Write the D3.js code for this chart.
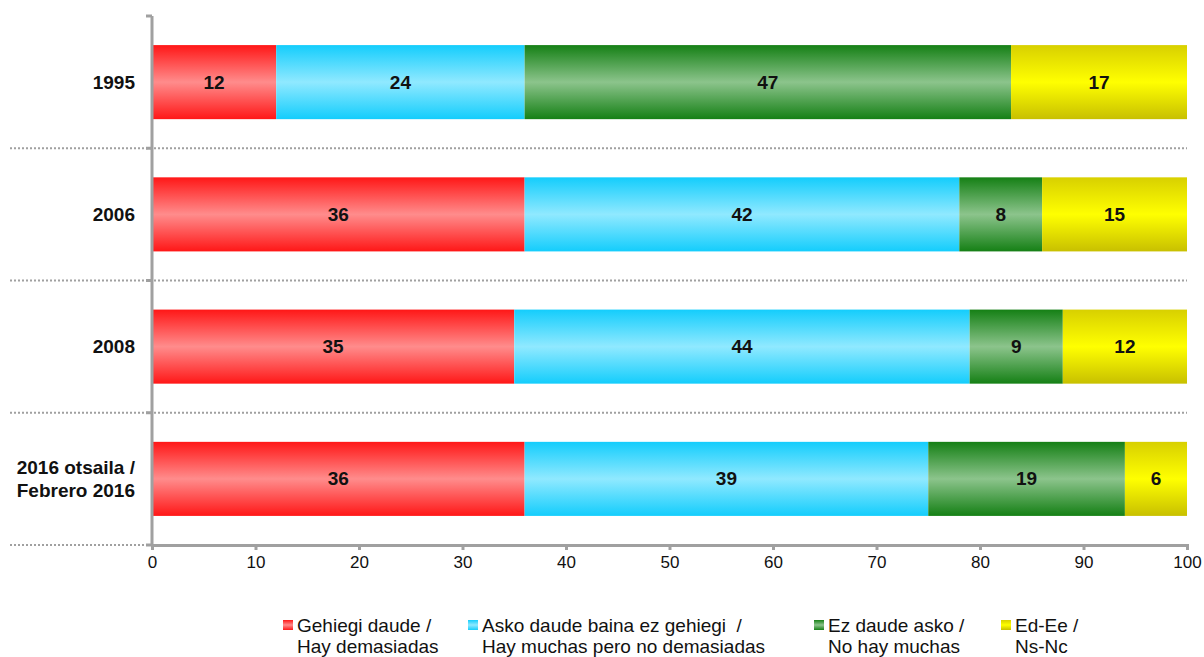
<!DOCTYPE html>
<html>
<head>
<meta charset="utf-8">
<script src="https://cdn.jsdelivr.net/npm/d3@7"></script>
<style>
  body { margin: 0; background: #fff; }
  svg { display: block; font-family: "Liberation Sans", Arial, sans-serif; }
</style>
</head>
<body>
<div id="chart"></div>
<script>
const categories = ['1995', '2006', '2008', '2016 otsaila / Febrero 2016'];
const seriesNames = [
  ['Gehiegi daude /', 'Hay demasiadas'],
  ['Asko daude baina ez gehiegi  /', 'Hay muchas pero no demasiadas'],
  ['Ez daude asko /', 'No hay muchas'],
  ['Ed-Ee /', 'Ns-Nc']
];
const demasiadas = [12, 36, 35, 36];
const muchas = [24, 42, 44, 39];
const noMuchas = [47, 8, 9, 19];
const nsnc = [17, 15, 12, 6];
const xTicks = [0, 10, 20, 30, 40, 50, 60, 70, 80, 90, 100];

const series = [demasiadas, muchas, noMuchas, nsnc];
// edge / centre colours for each series gradient
const grads = [
  { id: 'gRed', stops: ['#ff1717', '#ff8c8c', '#ff1717'] },
  { id: 'gBlue', stops: ['#14cdfc', '#90e9ff', '#14cdfc'] },
  { id: 'gGreen', stops: ['#158015', '#8cc48c', '#158015'] },
  { id: 'gYellow', stops: ['#d8d000', '#ffff00', '#c8c000'] }
];

const width = 1204, height = 657;
const margin = { left: 152, right: 17, top: 16, bottom: 112 };

const svg = d3.select('#chart').append('svg')
  .attr('width', width).attr('height', height);

const defs = svg.append('defs');
grads.forEach(g => {
  const lg = defs.append('linearGradient').attr('id', g.id)
    .attr('x1', 0).attr('y1', 0).attr('x2', 0).attr('y2', 1);
  lg.append('stop').attr('offset', '0%').attr('stop-color', g.stops[0]);
  lg.append('stop').attr('offset', '50%').attr('stop-color', g.stops[1]);
  lg.append('stop').attr('offset', '100%').attr('stop-color', g.stops[2]);
});

// clamp: totals that round past 100 still end at the axis edge
const x = d3.scaleLinear().domain([0, 100]).range([margin.left, width - margin.right]).clamp(true);
const y = d3.scaleBand().domain(categories)
  .range([margin.top, height - margin.bottom]).paddingInner(0.44).paddingOuter(0.22);

const axisColor = '#a0a0a0';
const step = y.step();
const bandTop = margin.top;

// dotted separators between categories
const seps = d3.range(1, categories.length + 1).map(i => bandTop + i * step);
svg.append('g').selectAll('line').data(seps).enter().append('line')
  .attr('x1', 10).attr('x2', x(100))
  .attr('y1', d => d).attr('y2', d => d)
  .attr('stroke', '#a0a0a0').attr('stroke-width', 2)
  .attr('stroke-dasharray', '2,2');

// bars
const stacked = categories.map((c, i) => {
  let acc = 0;
  return series.map((s, k) => {
    const d = { cat: c, k, v: s[i], x0: acc, x1: acc + s[i] };
    acc += s[i];
    return d;
  });
}).flat();

const bars = svg.append('g').selectAll('g.seg').data(stacked).enter().append('g').attr('class', 'seg');
bars.append('rect')
  .attr('x', d => x(d.x0))
  .attr('y', d => y(d.cat))
  .attr('width', d => x(d.x1) - x(d.x0))
  .attr('height', y.bandwidth())
  .attr('fill', d => `url(#${grads[d.k].id})`);
bars.append('text')
  .attr('x', d => (x(d.x0) + x(d.x1)) / 2)
  .attr('y', d => y(d.cat) + y.bandwidth() / 2)
  .attr('text-anchor', 'middle')
  .attr('dominant-baseline', 'central')
  .attr('font-size', 19).attr('font-weight', 'bold').attr('fill', '#111')
  .text(d => d.v);

// y axis line and ticks
const yAxisG = svg.append('g');
yAxisG.append('line')
  .attr('x1', x(0)).attr('x2', x(0))
  .attr('y1', bandTop).attr('y2', bandTop + categories.length * step)
  .attr('stroke', axisColor).attr('stroke-width', 3);
yAxisG.selectAll('line.tk').data([bandTop].concat(seps)).enter().append('line')
  .attr('class', 'tk')
  .attr('x1', x(0) - 6).attr('x2', x(0))
  .attr('y1', d => d).attr('y2', d => d)
  .attr('stroke', axisColor).attr('stroke-width', 3);

// category labels
yAxisG.selectAll('text').data(categories).enter().append('text')
  .attr('text-anchor', 'end')
  .attr('font-size', 19).attr('font-weight', 'bold').attr('fill', '#111')
  .each(function (d) {
    const cy = y(d) + y.bandwidth() / 2;
    const parts = d.includes(' / ') ? [d.split(' / ')[0] + ' /', d.split(' / ')[1]] : [d];
    const t = d3.select(this);
    parts.forEach((p, i) => {
      t.append('tspan').attr('x', x(0) - 17)
        .attr('y', cy + (i - (parts.length - 1) / 2) * 23)
        .attr('dy', '0.35em').text(p);
    });
  });

// x axis
const xAxisY = bandTop + categories.length * step;
const xAxis = svg.append('g').attr('transform', `translate(0,${xAxisY})`)
  .call(d3.axisBottom(x).tickValues(xTicks).tickSize(5).tickPadding(6));
xAxis.select('.domain').attr('stroke', axisColor).attr('stroke-width', 3);
xAxis.selectAll('.tick line').attr('stroke', axisColor).attr('stroke-width', 3);
xAxis.selectAll('.tick text')
  .attr('font-size', 17).attr('fill', '#111')
  .attr('font-family', '"Liberation Sans", Arial, sans-serif');

// legend
const legendX = [283, 468, 814, 1001];
const legend = svg.append('g');
seriesNames.forEach((names, k) => {
  const g = legend.append('g');
  g.append('rect').attr('x', legendX[k]).attr('y', 620).attr('width', 10).attr('height', 10)
    .attr('fill', `url(#${grads[k].id})`);
  names.forEach((n, i) => {
    g.append('text').attr('x', legendX[k] + 14).attr('y', 625 + i * 21)
      .attr('dy', '0.35em')
      .attr('font-size', 19).attr('fill', '#111')
      .style('white-space', 'pre')
      .text(n);
  });
});
</script>
</body>
</html>
